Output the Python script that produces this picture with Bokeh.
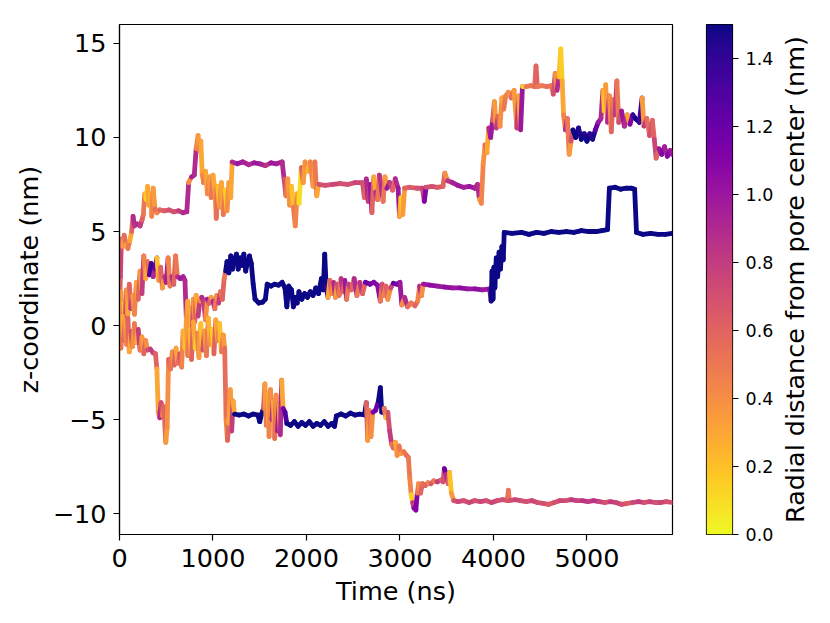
import numpy as np
from bokeh.plotting import figure
from bokeh.models import (ColumnDataSource, LinearColorMapper, FixedTicker,
                          Range1d, LinearAxis, CustomJSTickFormatter)
from bokeh.layouts import row
from bokeh.palettes import Plasma256
from bokeh.embed import file_html
from bokeh.resources import INLINE

# ---------------- data ----------------
x_ticks = [0, 1000, 2000, 3000, 4000, 5000]
y_ticks = [-10, -5, 0, 5, 10, 15]
cbar_ticks = [0.0, 0.2, 0.4, 0.6, 0.8, 1.0, 1.2, 1.4]

# trajectory A (upper)
a_time = [0, 10, 20, 35, 50, 70, 90, 110, 130, 145, 160, 190, 220, 240, 255, 270, 285, 300, 315, 330,
          345, 360, 380, 400, 430, 480, 530, 580, 630, 680, 720, 740, 770, 800, 820, 840, 855, 870, 885, 900,
          920, 940, 960, 980, 1000, 1020, 1035, 1050, 1070, 1090, 1110, 1130, 1150, 1170, 1190, 1205, 1260, 1320, 1380, 1440,
          1500, 1560, 1620, 1680, 1740, 1760, 1780, 1800, 1820, 1840, 1860, 1880, 1900, 1920, 1945, 1965, 1985, 2010, 2040, 2070,
          2090, 2110, 2130, 2200, 2280, 2360, 2440, 2520, 2600, 2620, 2640, 2660, 2680, 2700, 2720, 2740, 2760, 2780, 2800, 2820,
          2840, 2860, 2890, 2920, 2950, 2980, 2995, 3010, 3030, 3050, 3100, 3180, 3240, 3260, 3280, 3340, 3400, 3460, 3480, 3510,
          3560, 3620, 3680, 3740, 3800, 3830, 3850, 3870, 3890, 3910, 3930, 3950, 3970, 3990, 4010, 4030, 4050, 4070, 4090, 4110,
          4130, 4160, 4190, 4220, 4250, 4270, 4290, 4310, 4350, 4400, 4440, 4455, 4470, 4520, 4570, 4620, 4640, 4660, 4680, 4700,
          4720, 4735, 4750, 4770, 4790, 4810, 4830, 4850, 4880, 4910, 4940, 4970, 5000, 5030, 5060, 5090, 5120, 5150, 5170, 5185,
          5200, 5220, 5240, 5260, 5280, 5300, 5320, 5340, 5370, 5400, 5430, 5460, 5490, 5520, 5560, 5590, 5610, 5640, 5670, 5700,
          5720, 5740, 5770, 5800, 5830, 5860, 5890, 5910]
a_z = [1.0, 2.6, 4.6, 4.2, 4.8, 4.3, 4.1, 4.5, 5.0, 5.8, 5.3, 5.4, 5.3, 5.6, 5.9, 7.0, 6.7, 7.4, 6.4, 7.0,
       5.8, 7.3, 6.2, 6.0, 6.15, 6.1, 6.15, 6.05, 6.1, 6.0, 6.05, 7.6, 7.9, 8.0, 9.4, 10.1, 9.3, 9.8, 8.0, 7.6,
       8.2, 7.0, 7.9, 6.8, 8.0, 7.2, 5.7, 7.4, 6.3, 7.6, 5.9, 7.2, 6.1, 7.6, 6.8, 8.7, 8.6, 8.7, 8.55, 8.65,
       8.6, 8.5, 8.65, 8.6, 8.7, 7.8, 6.9, 7.8, 6.4, 7.4, 6.3, 5.3, 7.0, 6.5, 8.4, 7.6, 8.7, 8.2, 8.7, 7.4,
       8.7, 6.9, 7.5, 7.45, 7.5, 7.55, 7.5, 7.6, 7.6, 6.8, 7.8, 6.6, 7.5, 6.0, 7.9, 7.1, 6.7, 8.0, 7.4, 6.6,
       7.9, 7.3, 7.6, 7.2, 7.8, 7.3, 5.8, 6.8, 5.9, 7.3, 7.35, 7.3, 7.3, 6.6, 7.35, 7.4, 7.35, 7.4, 8.1, 7.7,
       7.6, 7.45, 7.35, 7.4, 7.3, 7.5, 6.7, 6.5, 8.6, 9.6, 9.2, 10.5, 10.0, 10.9, 11.9, 10.5, 11.1, 10.6, 12.1, 11.5,
       12.2, 12.4, 12.1, 12.5, 10.5, 12.2, 10.4, 12.7, 12.7, 12.75, 12.7, 13.8, 12.7, 12.75, 12.7, 12.75, 12.3, 13.4, 12.5, 13.2,
       14.7, 13.0, 11.2, 10.4, 11.0, 9.1, 9.8, 10.4, 10.0, 10.5, 9.9, 10.2, 9.8, 10.2, 9.9, 10.4, 10.8, 11.0, 12.5, 11.4,
       12.8, 10.8, 12.2, 10.3, 12.0, 11.2, 13.0, 10.8, 11.4, 10.6, 11.2, 10.7, 11.2, 11.0, 10.8, 12.1, 10.6, 11.0, 10.1, 10.9,
       9.9, 8.9, 9.4, 9.1, 9.5, 9.0, 9.3, 9.1]
a_r = [0.6, 0.75, 0.6, 0.35, 0.55, 0.35, 0.5, 0.3, 0.6, 0.9, 0.85, 0.9, 0.8, 0.6, 0.5, 0.25, 0.15, 0.3, 0.35, 0.25,
       0.45, 0.35, 0.55, 0.45, 0.6, 0.65, 0.7, 0.7, 0.8, 0.9, 0.9, 0.4, 0.95, 0.9, 0.45, 0.35, 0.5, 0.3, 0.4, 0.5,
       0.3, 0.45, 0.35, 0.5, 0.3, 0.4, 0.55, 0.2, 0.4, 0.3, 0.5, 0.15, 0.4, 0.35, 0.3, 0.9, 1.0, 0.95, 0.9, 1.0,
       0.95, 0.85, 1.0, 0.95, 0.9, 0.7, 0.5, 0.35, 0.4, 0.2, 0.5, 0.45, 0.3, 0.1, 0.6, 0.35, 0.4, 0.25, 0.45, 0.35,
       0.5, 0.3, 0.7, 0.7, 0.75, 0.7, 0.7, 0.75, 0.7, 0.6, 0.9, 0.8, 1.0, 0.6, 0.3, 0.9, 0.5, 0.85, 0.9, 0.5,
       0.35, 1.0, 0.8, 0.6, 0.9, 1.0, 0.3, 0.15, 0.35, 0.6, 0.65, 0.7, 0.75, 1.1, 0.7, 0.7, 0.65, 0.6, 0.4, 0.85,
       0.95, 1.0, 0.95, 1.0, 0.95, 0.9, 0.3, 0.45, 0.4, 0.55, 0.3, 0.9, 1.0, 0.6, 0.35, 0.8, 0.6, 0.4, 0.3, 0.5,
       0.45, 0.4, 0.55, 0.35, 0.8, 0.3, 1.0, 0.15, 0.5, 0.5, 0.55, 0.6, 0.5, 0.5, 0.55, 0.5, 0.7, 0.4, 0.9, 0.2,
       0.15, 0.3, 0.45, 0.9, 0.5, 0.35, 0.7, 1.5, 1.5, 1.45, 1.5, 1.45, 1.5, 1.4, 1.45, 1.2, 1.0, 0.9, 0.3, 0.15,
       0.35, 0.9, 0.4, 0.6, 0.5, 0.8, 0.5, 0.7, 1.0, 0.9, 0.3, 1.1, 1.4, 1.5, 1.35, 0.35, 0.8, 0.55, 0.7, 0.6,
       0.75, 0.6, 1.0, 1.1, 0.95, 1.1, 1.0, 1.05]

# trajectory B (middle)
b_time = [0, 15, 30, 45, 60, 75, 90, 105, 120, 140, 160, 180, 200, 220, 240, 260, 280, 300, 320, 340,
          360, 380, 400, 420, 440, 460, 480, 500, 520, 540, 560, 580, 600, 620, 650, 680, 700, 715, 730, 745,
          760, 775, 790, 805, 820, 840, 860, 880, 900, 920, 940, 960, 980, 1000, 1020, 1040, 1060, 1080, 1100, 1120,
          1135, 1150, 1170, 1190, 1210, 1230, 1250, 1270, 1290, 1310, 1330, 1350, 1370, 1390, 1410, 1430, 1450, 1490, 1530, 1560,
          1580, 1620, 1660, 1700, 1740, 1770, 1790, 1810, 1840, 1860, 1880, 1900, 1920, 1950, 1980, 2010, 2040, 2070, 2100, 2130,
          2160, 2180, 2195, 2210, 2230, 2250, 2270, 2290, 2310, 2330, 2350, 2370, 2390, 2410, 2430, 2450, 2480, 2510, 2540, 2570,
          2600, 2630, 2680, 2720, 2760, 2790, 2810, 2830, 2850, 2870, 2900, 2930, 2970, 3000, 3020, 3050, 3080, 3120, 3160, 3190,
          3210, 3230, 3250, 3320, 3400, 3480, 3560, 3640, 3720, 3800, 3880, 3960, 3975, 3985, 3995, 4005, 4015, 4030, 4045, 4060,
          4075, 4090, 4105, 4115, 4200, 4300, 4380, 4460, 4540, 4620, 4700, 4780, 4860, 4940, 5020, 5100, 5160, 5220, 5240, 5300,
          5360, 5420, 5480, 5510, 5530, 5600, 5680, 5760, 5840, 5910]
b_z = [0.5, 1.8, -0.3, 1.2, 0.3, 1.9, 0.6, 2.2, 0.9, 1.6, 0.6, 2.3, 1.4, 2.9, 1.7, 3.7, 2.5, 3.4, 2.7, 3.3,
       2.6, 3.0, 3.6, 2.4, 3.1, 2.0, 2.6, 2.3, 3.6, 2.1, 2.6, 2.2, 3.7, 2.6, 2.5, 2.6, 2.4, 0.4, 1.3, -0.2,
       0.9, -0.8, 1.4, 0.2, 1.6, 0.5, 1.3, 1.5, 1.3, 0.3, 1.4, 1.2, 1.5, 1.3, 0.9, 1.6, 1.2, 1.8, 1.4, 2.5,
       2.9, 3.4, 2.8, 3.7, 3.0, 3.5, 3.8, 3.0, 3.6, 3.2, 3.8, 2.9, 3.4, 3.7, 3.3, 2.2, 1.4, 1.2, 1.25, 1.4,
       2.2, 2.1, 2.2, 2.15, 2.3, 2.0, 1.0, 2.1, 1.9, 1.0, 1.5, 1.2, 1.8, 1.4, 1.7, 1.5, 1.8, 1.6, 2.0, 1.7,
       2.5, 1.9, 3.8, 2.1, 1.5, 2.4, 1.7, 2.3, 1.5, 2.2, 1.6, 2.5, 1.8, 2.4, 1.4, 2.2, 1.9, 2.5, 1.6, 2.3,
       1.7, 2.3, 2.2, 2.3, 2.15, 1.3, 2.2, 1.6, 2.1, 1.4, 2.0, 2.25, 2.2, 2.3, 1.1, 1.5, 1.0, 1.2, 1.05, 1.3,
       2.1, 1.6, 2.2, 2.15, 2.1, 2.05, 2.0, 2.0, 1.95, 1.95, 1.9, 1.95, 1.3, 2.9, 1.4, 3.1, 2.0, 3.6, 2.6, 3.9,
       3.0, 4.2, 3.5, 4.95, 4.9, 4.95, 4.85, 4.95, 4.9, 5.0, 4.95, 5.0, 4.95, 5.05, 5.0, 5.0, 5.05, 5.1, 7.3, 7.35,
       7.25, 7.3, 7.3, 7.25, 4.95, 4.85, 4.9, 4.85, 4.85, 4.9]
b_r = [0.6, 0.35, 0.5, 0.2, 0.7, 0.4, 0.3, 0.6, 0.8, 0.35, 0.45, 0.3, 0.6, 0.35, 0.8, 0.45, 0.3, 0.55, 1.3, 1.35,
       0.9, 1.2, 0.2, 0.4, 0.6, 0.35, 0.8, 0.95, 0.45, 0.5, 0.9, 0.6, 0.5, 0.9, 1.0, 0.95, 0.9, 0.4, 0.3, 0.5,
       0.25, 0.7, 0.35, 0.6, 0.3, 0.8, 0.45, 0.9, 0.8, 0.4, 0.95, 0.6, 0.35, 0.9, 0.5, 0.4, 0.8, 0.5, 0.6, 0.5,
       1.5, 1.5, 1.5, 1.5, 1.5, 1.5, 1.5, 1.5, 1.5, 1.5, 1.5, 1.5, 1.5, 1.5, 1.5, 1.5, 1.5, 1.5, 1.5, 1.5,
       1.5, 1.5, 1.5, 1.5, 1.5, 1.5, 1.5, 1.5, 1.5, 1.5, 1.5, 1.5, 1.5, 1.5, 1.5, 1.5, 1.5, 1.5, 1.5, 1.5,
       1.5, 1.5, 1.5, 1.4, 0.3, 0.6, 0.4, 0.9, 0.35, 0.7, 0.5, 0.85, 0.6, 1.0, 0.5, 0.8, 0.6, 0.9, 0.5, 0.85,
       0.6, 1.2, 1.15, 1.1, 1.05, 0.5, 0.7, 0.45, 0.6, 0.4, 0.75, 1.25, 1.15, 1.0, 0.4, 0.9, 0.55, 0.5, 0.6, 0.45,
       0.9, 0.4, 1.0, 1.05, 1.0, 1.05, 1.0, 1.05, 1.0, 1.05, 1.0, 1.1, 1.5, 1.5, 1.5, 1.5, 1.5, 1.5, 1.5, 1.5,
       1.5, 1.5, 1.5, 1.5, 1.5, 1.5, 1.5, 1.5, 1.5, 1.5, 1.5, 1.5, 1.5, 1.5, 1.5, 1.5, 1.5, 1.5, 1.5, 1.5,
       1.5, 1.5, 1.5, 1.5, 1.5, 1.5, 1.5, 1.5, 1.5, 1.5]

# trajectory C (lower)
c_time = [0, 15, 30, 45, 60, 75, 90, 105, 120, 140, 160, 180, 200, 220, 240, 260, 280, 300, 330, 360,
          385, 400, 415, 430, 445, 460, 475, 495, 510, 525, 545, 565, 585, 605, 625, 645, 665, 680, 700, 715,
          730, 750, 770, 790, 810, 830, 850, 870, 890, 910, 930, 950, 970, 990, 1010, 1030, 1050, 1070, 1090, 1110,
          1125, 1140, 1155, 1170, 1185, 1200, 1215, 1230, 1280, 1330, 1380, 1430, 1480, 1500, 1520, 1540, 1555, 1570, 1585, 1600,
          1615, 1630, 1645, 1660, 1675, 1690, 1705, 1720, 1735, 1750, 1770, 1790, 1830, 1870, 1910, 1950, 1990, 2030, 2070, 2110,
          2150, 2190, 2230, 2270, 2300, 2320, 2370, 2420, 2470, 2520, 2570, 2620, 2640, 2655, 2670, 2690, 2710, 2740, 2770, 2790,
          2805, 2830, 2850, 2870, 2890, 2910, 2930, 2950, 2970, 2990, 3010, 3040, 3070, 3090, 3105, 3120, 3135, 3150, 3170, 3185,
          3200, 3220, 3240, 3270, 3300, 3330, 3360, 3400, 3440, 3460, 3475, 3495, 3515, 3530, 3550, 3575, 3620, 3680, 3740, 3800,
          3860, 3920, 3980, 4040, 4100, 4150, 4160, 4170, 4230, 4290, 4350, 4410, 4470, 4530, 4590, 4650, 4710, 4770, 4830, 4890,
          4950, 5010, 5070, 5130, 5190, 5250, 5310, 5370, 5430, 5490, 5550, 5610, 5670, 5730, 5790, 5850, 5910]
c_z = [0.3, -1.2, 0.5, -0.8, 0.2, -1.0, 0.4, -1.4, -0.3, -1.1, 0.1, -0.9, -0.2, -1.3, -0.6, -1.5, -0.8, -1.3, -1.25, -1.45,
       -1.5, -2.3, -4.6, -4.9, -4.1, -4.8, -4.3, -6.2, -5.4, -1.8, -2.3, -1.4, -2.1, -1.2, -2.0, -1.5, -2.2, -0.3, -1.2, 0.3,
       -1.6, -0.2, -1.8, 0.2, -1.2, -0.4, -1.7, 0.1, -1.3, -0.3, -1.6, 0.4, -1.0, -0.2, -1.5, 0.3, -0.8, 0.1, -1.4, -0.5,
       -1.2, -5.0, -6.1, -5.2, -3.4, -5.6, -4.0, -4.7, -4.75, -4.7, -4.8, -4.7, -4.75, -5.1, -4.7, -4.4, -3.1, -5.3, -3.6, -5.9,
       -3.4, -5.0, -4.0, -6.0, -3.7, -5.6, -4.2, -5.8, -2.9, -4.4, -4.6, -5.2, -5.3, -5.1, -5.35, -5.15, -5.3, -5.1, -5.35, -5.2,
       -5.3, -5.1, -5.35, -5.2, -5.35, -4.8, -4.7, -4.8, -4.65, -4.75, -4.7, -4.75, -4.1, -6.1, -4.5, -5.9, -4.6, -4.5, -4.0, -3.3,
       -4.6, -4.4, -4.9, -4.6, -5.6, -6.3, -6.5, -6.2, -6.9, -6.4, -6.8, -6.7, -6.9, -7.0, -8.1, -9.0, -9.4, -9.7, -9.8, -8.9,
       -8.4, -8.9, -8.4, -8.5, -8.35, -8.4, -8.25, -8.3, -8.2, -8.3, -7.6, -7.9, -8.4, -7.8, -8.9, -9.3, -9.35, -9.3, -9.4, -9.3,
       -9.35, -9.3, -9.4, -9.3, -9.25, -9.3, -8.75, -9.3, -9.25, -9.3, -9.35, -9.3, -9.4, -9.45, -9.5, -9.4, -9.3, -9.3, -9.25, -9.3,
       -9.3, -9.35, -9.3, -9.35, -9.4, -9.35, -9.4, -9.5, -9.45, -9.4, -9.35, -9.4, -9.35, -9.4, -9.4, -9.35, -9.4]
c_r = [0.4, 0.5, 0.3, 0.6, 0.35, 0.45, 0.6, 0.3, 0.7, 0.4, 0.5, 0.3, 0.8, 0.5, 0.35, 0.6, 0.4, 0.7, 0.8, 0.75,
       0.6, 0.3, 0.4, 0.9, 0.7, 0.45, 0.6, 0.35, 0.4, 0.6, 0.5, 0.4, 0.6, 0.3, 0.55, 0.7, 0.45, 0.3, 0.2, 0.35,
       0.5, 0.25, 0.6, 0.3, 0.15, 0.45, 0.35, 0.2, 0.7, 0.35, 0.5, 0.25, 0.4, 0.15, 0.6, 0.3, 0.45, 0.2, 0.5, 0.35,
       0.55, 0.45, 0.6, 0.3, 0.35, 0.8, 0.3, 1.5, 1.5, 1.5, 1.5, 1.5, 1.5, 1.5, 1.5, 0.6, 0.35, 0.5, 0.3, 0.45,
       0.4, 0.9, 0.3, 0.55, 0.4, 1.0, 0.35, 0.9, 0.3, 1.1, 1.3, 1.5, 1.5, 1.5, 1.5, 1.5, 1.5, 1.5, 1.5, 1.5,
       1.5, 1.5, 1.5, 1.5, 1.5, 1.5, 1.5, 1.5, 1.5, 1.5, 1.5, 1.5, 0.6, 0.35, 0.5, 0.4, 1.1, 1.2, 1.5, 1.5,
       1.5, 0.5, 0.2, 0.7, 0.8, 0.5, 0.6, 0.3, 0.4, 0.5, 0.35, 0.5, 0.55, 0.5, 0.45, 0.15, 0.8, 1.05, 1.1, 0.5,
       0.4, 0.6, 0.55, 0.6, 0.45, 0.65, 0.5, 0.8, 0.6, 0.7, 1.2, 0.9, 0.6, 0.2, 0.35, 0.7, 0.75, 0.7, 0.75, 0.7,
       0.75, 0.7, 0.75, 0.7, 0.7, 0.65, 0.5, 0.7, 0.75, 0.7, 0.7, 0.75, 0.7, 0.7, 0.65, 0.7, 0.75, 0.7, 0.8, 0.75,
       0.85, 0.8, 0.85, 0.75, 0.7, 0.8, 0.75, 0.7, 0.65, 0.75, 0.8, 0.7, 0.75, 0.7, 0.75, 0.7, 0.75]

# ---------------- figure ----------------
FONT = "DejaVu Sans"
palette = list(Plasma256)[::-1]          # 0 -> yellow, 1.5 -> dark blue
mapper = LinearColorMapper(palette=palette, low=0.0, high=1.5)

TOP = 24
BOTTOM = 74

p = figure(frame_width=553, frame_height=510, output_backend="svg", toolbar_location=None,
           x_range=Range1d(0, 5915), y_range=Range1d(-11.1, 16.0),
           min_border_left=119, min_border_right=10, min_border_top=TOP, min_border_bottom=BOTTOM,
           background_fill_color="white", border_fill_color="white")
p.grid.grid_line_color = None
p.outline_line_color = "black"
p.outline_line_width = 1.2


def add_traj(t, z, r):
    t = np.asarray(t, float)
    z = np.asarray(z, float)
    r = np.asarray(r, float)
    src = ColumnDataSource(dict(x0=t[:-1], x1=t[1:], y0=z[:-1], y1=z[1:], r=r[:-1]))
    p.segment(x0="x0", y0="y0", x1="x1", y1="y1", source=src,
              line_color={"field": "r", "transform": mapper},
              line_width=4.8, line_cap="round")


add_traj(a_time, a_z, a_r)
add_traj(b_time, b_z, b_r)
add_traj(c_time, c_z, c_r)

for ax in (p.xaxis[0], p.yaxis[0]):
    ax.major_label_text_font = FONT
    ax.major_label_text_font_size = "25.5px"
    ax.major_label_text_color = "black"
    ax.axis_label_text_font = FONT
    ax.axis_label_text_font_size = "25.5px"
    ax.axis_label_text_font_style = "normal"
    ax.axis_label_text_color = "black"
    ax.axis_line_color = "black"
    ax.axis_line_width = 1.2
    ax.major_tick_line_color = "black"
    ax.major_tick_line_width = 1.2
    ax.major_tick_out = 6
    ax.major_tick_in = 0
    ax.minor_tick_line_color = None

p.xaxis.ticker = FixedTicker(ticks=x_ticks)
p.yaxis.ticker = FixedTicker(ticks=y_ticks)
p.yaxis.formatter = CustomJSTickFormatter(code="return (tick < 0 ? '\u2212' : '') + Math.abs(tick).toFixed(0);")
p.xaxis.axis_label = "Time (ns)"
p.yaxis.axis_label = "z-coordinate (nm)"
p.xaxis.major_label_standoff = 8
p.yaxis.major_label_standoff = 7
p.xaxis.axis_label_standoff = 6
p.yaxis.axis_label_standoff = 6

# ---------------- colour bar ----------------
cb = figure(frame_width=26, frame_height=510, output_backend="svg", toolbar_location=None,
            x_range=Range1d(0, 1), y_range=Range1d(0, 1.5),
            min_border_left=24, min_border_right=44, min_border_top=TOP, min_border_bottom=BOTTOM,
            x_axis_location=None, y_axis_location=None,
            background_fill_color="white", border_fill_color="white")
cb.grid.grid_line_color = None
cb.outline_line_color = "black"
cb.outline_line_width = 1.2
grad_levels = np.linspace(0.0, 1.5, 256).reshape(-1, 1)
cb.image(image=[grad_levels], x=0, y=0, dw=1, dh=1.5, color_mapper=mapper)

cax = LinearAxis(ticker=FixedTicker(ticks=cbar_ticks),
                 formatter=CustomJSTickFormatter(code="return tick.toFixed(1);"))
cax.major_label_text_font = FONT
cax.major_label_text_font_size = "17.5px"
cax.major_label_text_color = "black"
cax.axis_line_color = None
cax.major_tick_line_color = "black"
cax.major_tick_line_width = 1.2
cax.major_tick_out = 6
cax.major_tick_in = 0
cax.minor_tick_line_color = None
cax.major_label_standoff = 7
cb.add_layout(cax, "right")

# colour-bar title: left axis label of a thin companion figure (reads bottom-to-top)
lab = figure(frame_width=2, frame_height=510, output_backend="svg", toolbar_location=None,
             x_range=Range1d(0, 1), y_range=Range1d(0, 1.5),
             min_border_left=0, min_border_right=0, min_border_top=TOP, min_border_bottom=BOTTOM,
             x_axis_location=None, y_axis_location="left",
             background_fill_color="white", border_fill_color="white")
lab.grid.grid_line_color = None
lab.outline_line_color = None
lab.yaxis.ticker = FixedTicker(ticks=[])
lab.yaxis.axis_line_color = None
lab.yaxis.major_tick_line_color = None
lab.yaxis.minor_tick_line_color = None
lab.yaxis.axis_label = "Radial distance from pore center (nm)"
lab.yaxis.axis_label_text_font = FONT
lab.yaxis.axis_label_text_font_size = "25.5px"
lab.yaxis.axis_label_text_font_style = "normal"
lab.yaxis.axis_label_text_color = "black"
lab.yaxis.axis_label_standoff = 4

layout = row(p, cb, lab)
open("out.html", "w").write(file_html(layout, INLINE))
